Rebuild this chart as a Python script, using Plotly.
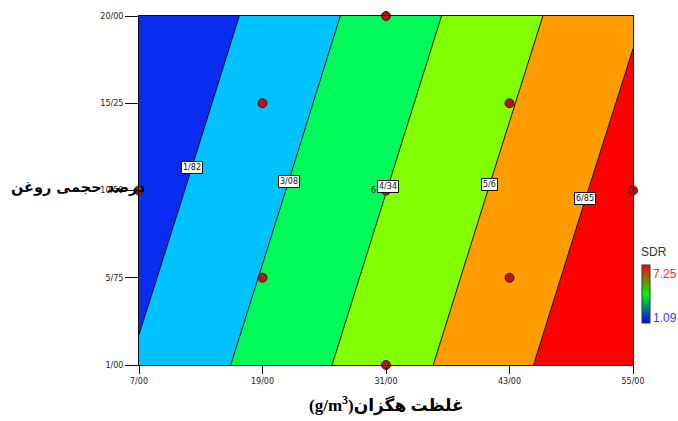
import numpy as np
import plotly.graph_objects as go

# Response surface of SDR over hexane concentration (x) and oil volume percent (y)
conc = [7.0, 31.0, 55.0]              # غلظت هگزان (g/m3)
oil = [1.0, 10.5, 20.0]               # درصد حجمی روغن
sdr = [                               # rows follow `oil`, columns follow `conc`
    [1.94, 5.01, 8.09],
    [1.25, 4.33, 7.41],
    [0.57, 3.65, 6.72],
]

# Contour levels shown on the plot
levels = [1.82, 3.08, 4.34, 5.60, 6.85]
label_oil = [11.77, 11.01, 10.74, 10.80, 10.04]   # height at which each level is labelled

# Design points of the experiment (central composite design)
design_conc = [31, 19, 43, 7, 31, 55, 19, 43, 31]
design_oil = [20, 15.25, 15.25, 10.5, 10.5, 10.5, 5.75, 5.75, 1]
center_reps = 6

# Axis ticks
x_ticks = [7, 19, 31, 43, 55]
y_ticks = [1, 5.75, 10.5, 15.25, 20]

# Observed SDR range for the colour bar
sdr_min, sdr_max = 1.09, 7.25

band_colors = ["#0a2cf0", "#00c2ff", "#00fa5a", "#82ff00", "#ff9c00", "#ff0000"]
band_scale = [[i / (len(band_colors) - 1), c] for i, c in enumerate(band_colors)]

z = np.array(sdr)
fig = go.Figure()

fig.add_trace(go.Contour(
    x=conc, y=oil, z=z,
    autocontour=False,
    contours=dict(start=levels[0], end=levels[-1],
                  size=(levels[-1] - levels[0]) / (len(levels) - 1),
                  coloring="fill", showlines=False),
    colorscale=band_scale, showscale=False,
    line=dict(width=0, smoothing=0), hoverinfo="skip",
))

for lv in levels:
    fig.add_trace(go.Contour(
        x=conc, y=oil, z=z,
        autocontour=False,
        contours=dict(start=lv, end=lv, size=1, coloring="none", showlines=True),
        line=dict(color="#111111", width=1, smoothing=0),
        showscale=False, hoverinfo="skip",
    ))

fig.add_trace(go.Scatter(
    x=design_conc, y=design_oil, mode="markers",
    marker=dict(size=9, color="#b3151b", line=dict(color="#5a0a0a", width=1)),
    cliponaxis=False, hoverinfo="skip", showlegend=False,
))

# Colour bar of the SDR response
fig.add_trace(go.Scatter(
    x=[None, None], y=[None, None], mode="markers",
    marker=dict(color=[sdr_min, sdr_max], cmin=sdr_min, cmax=sdr_max,
                colorscale=[[0, "#0000ff"], [0.5, "#00ff00"], [1, "#ff0000"]],
                showscale=True,
                colorbar=dict(thickness=8, len=58, lenmode="pixels",
                              x=(642 - 139) / 494, xanchor="left",
                              y=(365 - 294) / 351, yanchor="middle",
                              xpad=0, ypad=0, outlinewidth=1, outlinecolor="#333333",
                              showticklabels=False, ticks="")),
    hoverinfo="skip", showlegend=False,
))


def level_x(level, yv):
    """Concentration at which the interpolated surface reaches `level` at height yv."""
    row = np.array([np.interp(yv, oil, z[:, j]) for j in range(len(conc))])
    return float(np.interp(level, row, conc))


def fmt(v):
    s = f"{v:.2f}".rstrip("0").rstrip(".")
    return s.replace(".", "/")


annotations = []
for lv, yv in zip(levels, label_oil):
    annotations.append(dict(
        x=level_x(lv, yv), y=yv, xref="x", yref="y", text=fmt(lv), showarrow=False,
        font=dict(family="DejaVu Sans", size=8, color="#111111"),
        bgcolor="white", bordercolor="#111111", borderwidth=1, borderpad=1,
    ))

annotations.append(dict(
    x=31, y=10.5, xref="x", yref="y", text=str(center_reps), showarrow=False,
    xshift=-13, font=dict(family="DejaVu Sans", size=8, color="#222222"),
))

annotations += [
    dict(x=0.5, y=-0.114, xref="paper", yref="paper", xanchor="center", yanchor="middle",
         text="(g/m<sup>3</sup>)غلظت هگزان", showarrow=False,
         font=dict(family="Liberation Serif, DejaVu Sans", size=17, color="#000000", weight="bold")),
    dict(x=(147 - 139) / 494, y=(365 - 186) / 351, xref="paper", yref="paper",
         xanchor="right", yanchor="middle", text="درصد حجمی روغن", showarrow=False,
         font=dict(family="DejaVu Sans", size=14.5, color="#000000", weight="bold")),
    dict(x=(639 - 139) / 494, y=(365 - 251) / 351, xref="paper", yref="paper",
         xanchor="left", yanchor="middle", text="SDR", showarrow=False,
         font=dict(family="Liberation Sans", size=12, color="#333333")),
    dict(x=(651 - 139) / 494, y=(365 - 273) / 351, xref="paper", yref="paper",
         xanchor="left", yanchor="middle", text=f"{sdr_max:.2f}", showarrow=False,
         font=dict(family="Liberation Sans", size=12, color="#ff2a2a")),
    dict(x=(651 - 139) / 494, y=(365 - 318) / 351, xref="paper", yref="paper",
         xanchor="left", yanchor="middle", text=f"{sdr_min:.2f}", showarrow=False,
         font=dict(family="Liberation Sans", size=12, color="#3a3aff")),
]

axis_common = dict(showgrid=False, zeroline=False, showline=True, linecolor="#111111",
                   linewidth=1, mirror=True, ticks="outside", tickcolor="#111111",
                   tickformat=".2f", tickfont=dict(family="DejaVu Sans", size=8, color="#222222"))

fig.update_layout(
    width=678, height=421,
    margin=dict(l=139, r=45, t=14, b=56),
    paper_bgcolor="white", plot_bgcolor="white",
    separators="/,",
    showlegend=False,
    xaxis=dict(range=[7, 55], tickvals=x_ticks, ticklen=8, **axis_common),
    yaxis=dict(range=[1, 20], tickvals=y_ticks, ticklen=13, **axis_common),
    annotations=annotations,
)

fig.write_html("out.html")
